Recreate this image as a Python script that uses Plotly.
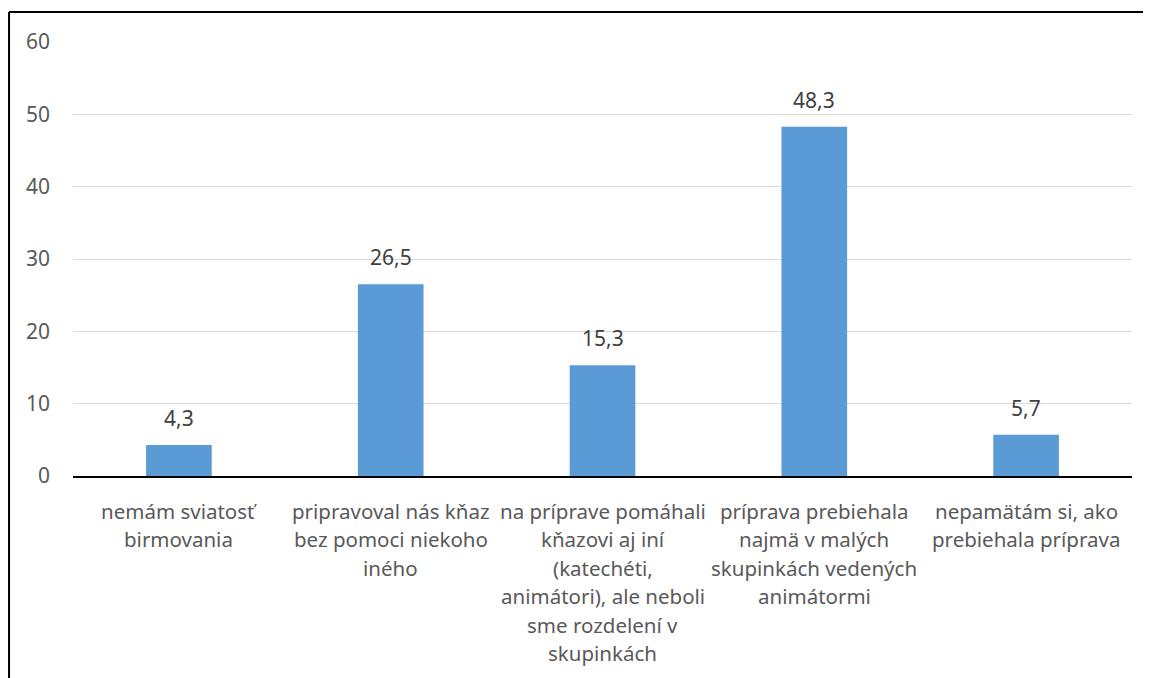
import plotly.graph_objects as go

# category labels, one list of lines per bar (wrapped as in the source chart)
label_lines = [
    ["nemám sviatosť", "birmovania"],
    ["pripravoval nás kňaz", "bez pomoci niekoho", "iného"],
    ["na príprave pomáhali", "kňazovi aj iní", "(katechéti,",
     "animátori), ale neboli", "sme rozdelení v", "skupinkách"],
    ["príprava prebiehala", "najmä v malých", "skupinkách vedených", "animátormi"],
    ["nepamätám si, ako", "prebiehala príprava"],
]
categories = [" ".join(lines) for lines in label_lines]
values = [4.3, 26.5, 15.3, 48.3, 5.7]
y_ticks = [0, 10, 20, 30, 40, 50, 60]

font_family = "Noto Sans"
bar_color = "#5b9bd5"

fig = go.Figure()
fig.add_trace(go.Bar(
    x=categories,
    y=values,
    marker=dict(color=bar_color, line=dict(width=0)),
    hoverinfo="skip",
))

# value labels above the bars (decimal comma)
for cat, v in zip(categories, values):
    fig.add_annotation(
        x=cat, y=v, xref="x", yref="y",
        text=f"{v:.1f}".replace(".", ","), showarrow=False,
        yanchor="bottom", xanchor="center", yshift=11,
        font=dict(family=font_family, size=21, color="#404040"),
    )

# wrapped category labels, line by line under each bar
line_gap = 28.4
for cat, lines in zip(categories, label_lines):
    for k, line in enumerate(lines):
        fig.add_annotation(
            x=cat, y=0, xref="x", yref="y",
            text=line, showarrow=False,
            yanchor="middle", xanchor="center",
            yshift=-(35 + line_gap * k),
            font=dict(family=font_family, size=20.5, color="#595959"),
        )

# chart border (left and top edges of the frame)
fig.add_shape(type="line", xref="paper", yref="paper",
              x0=-0.0604, x1=-0.0604, y0=1.069, y1=-1.0,
              line=dict(color="black", width=2))
fig.add_shape(type="line", xref="paper", yref="paper",
              x0=-0.0604, x1=1.1, y0=1.069, y1=1.069,
              line=dict(color="black", width=2))

# page body has an 8px margin, so the figure is 8px smaller
fig.update_layout(
    width=1143, height=670,
    margin=dict(l=65, r=19, t=34, b=202),
    plot_bgcolor="white", paper_bgcolor="white",
    bargap=0.69,
    showlegend=False,
    font=dict(family=font_family, size=21, color="#595959"),
)
fig.update_xaxes(
    showticklabels=False, ticks="",
    showline=True, linecolor="black", linewidth=1.5,
    showgrid=False,
)
fig.update_yaxes(
    range=[0, 60], tickvals=y_ticks,
    showgrid=True, gridcolor="#d9d9d9", gridwidth=1.3,
    zeroline=False, showline=False, ticks="",
    ticklabelstandoff=22,
    tickfont=dict(family=font_family, size=21, color="#595959"),
)

fig.write_html("out.html")
